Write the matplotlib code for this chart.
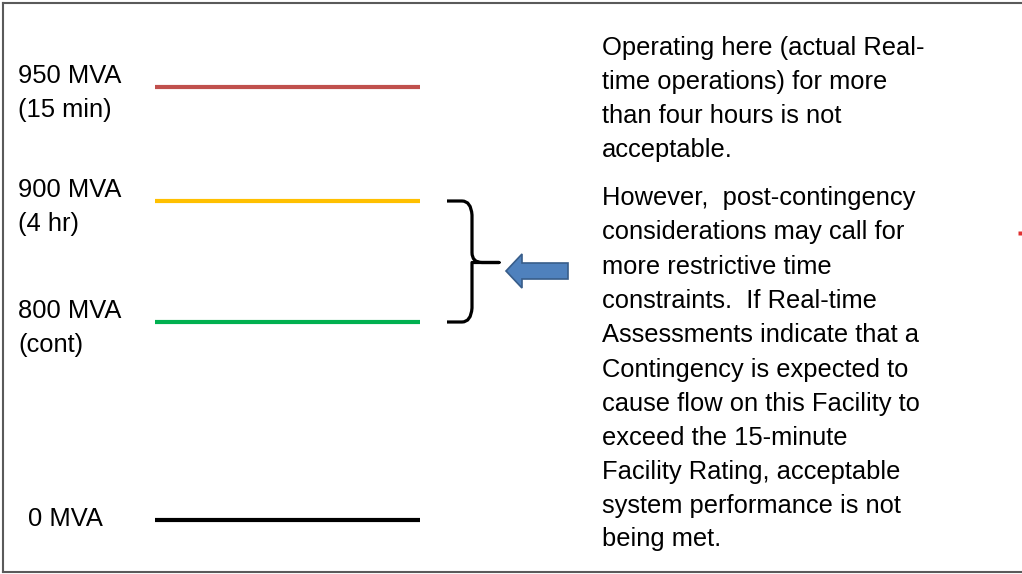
import matplotlib
matplotlib.use("Agg")
import matplotlib.pyplot as plt
from matplotlib.patches import FancyArrow
from matplotlib.path import Path
from matplotlib.patches import PathPatch

plt.rcParams['font.family'] = ['Liberation Sans', 'DejaVu Sans']

# Rating levels (schematic diagram, not to scale)
ratings = ["950 MVA", "900 MVA", "800 MVA", "0 MVA"]
durations = ["(15 min)", "(4 hr)", "(cont)", ""]
colors = ["#C0504D", "#FFC000", "#00B050", "#000000"]
level_y = [87, 201, 322, 520]

text_lines = [
    "Operating here (actual Real-",
    "time operations) for more",
    "than four hours is not",
    "acceptable.",
    "However,  post-contingency",
    "considerations may call for",
    "more restrictive time",
    "constraints.  If Real-time",
    "Assessments indicate that a",
    "Contingency is expected to",
    "cause flow on this Facility to",
    "exceed the 15-minute",
    "Facility Rating, acceptable",
    "system performance is not",
    "being met.",
]
text_y = [46, 80, 114, 148, 196, 230, 265, 299, 333, 368, 402, 436, 470, 504, 537]

fig = plt.figure(figsize=(10.22, 5.74), dpi=100)
ax = fig.add_axes([0, 0, 1, 1])
ax.set_xlim(0, 1022)
ax.set_ylim(574, 0)
ax.axis("off")

# border (left, top, bottom)
ax.plot([3, 3], [3, 572], color="#5a5a5a", lw=1.5)
ax.plot([3, 1022], [3, 3], color="#5a5a5a", lw=1.5)
ax.plot([3, 1022], [572, 572], color="#5a5a5a", lw=1.5)

fs = 18.4
dy = 2
for r, d, c, y in zip(ratings, durations, colors, level_y):
    ax.plot([155, 420], [y, y], color=c, lw=3, solid_capstyle="butt")
    if d:
        ax.text(18, y - 13 + dy, r, fontsize=fs, va="center", ha="left")
        ax.text(18, y + 21 + dy, d, fontsize=fs, va="center", ha="left")
    else:
        ax.text(28, y - 3 + dy, r, fontsize=fs, va="center", ha="left")

for t, y in zip(text_lines, text_y):
    ax.text(602, y + dy, t, fontsize=fs, va="center", ha="left")

# brace
top, bot, mid = level_y[1], level_y[2], (level_y[1] + level_y[2]) / 2 + 1
verts = [
    (447, top), (462, top), (471, top), (472, top + 14),
    (472, mid - 10),
    (472, mid), (482, mid), (499, mid),
    (482, mid), (472, mid), (472, mid + 10),
    (472, bot - 14),
    (471, bot), (462, bot), (447, bot),
]
codes = [Path.MOVETO, Path.LINETO, Path.CURVE3, Path.CURVE3, Path.LINETO,
         Path.CURVE3, Path.CURVE3, Path.LINETO,
         Path.CURVE3, Path.CURVE3, Path.LINETO, Path.LINETO,
         Path.CURVE3, Path.CURVE3, Path.LINETO]
ax.add_patch(PathPatch(Path(verts, codes), fill=False, lw=2.3, color="black",
                       capstyle="butt", joinstyle="round"))

# arrow
ax.add_patch(FancyArrow(568, 271, -62, 0, width=16, head_width=34, head_length=16,
                        length_includes_head=True, facecolor="#4F81BD",
                        edgecolor="#385D8A", lw=1.2))

# tiny red mark at right edge
ax.plot([1020], [233], marker="s", ms=2.5, color="#E03030", mec="none")

fig.savefig("out.png", dpi=100)
